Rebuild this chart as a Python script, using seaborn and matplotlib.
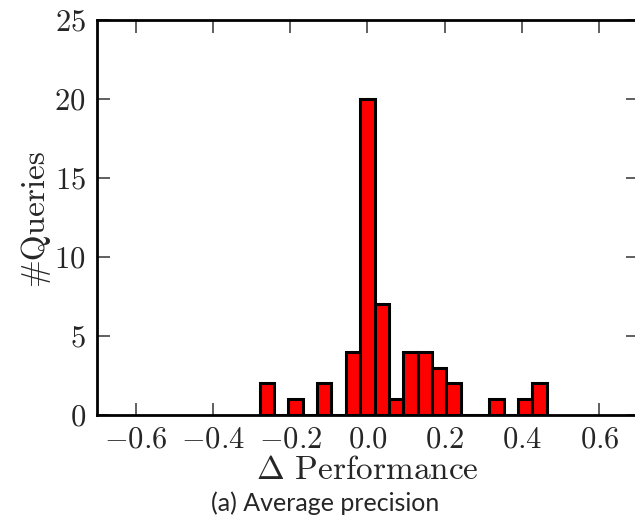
import numpy as np
import pandas as pd
import matplotlib
matplotlib.use("Agg")
import matplotlib.pyplot as plt
import seaborn as sns

# histogram: 20 bins between the min and max delta
bin_edges = list(np.linspace(-0.279, 0.464, 21))
bin_counts = [2, 0, 1, 0, 2, 0, 4, 20, 7, 1, 4, 4, 3, 2, 0, 0, 1, 0, 1, 2]
x_ticks = [-0.6, -0.4, -0.2, 0.0, 0.2, 0.4, 0.6]
y_ticks = [0, 5, 10, 15, 20, 25]

bin_centers = [(a + b) / 2 for a, b in zip(bin_edges[:-1], bin_edges[1:])]
df = pd.DataFrame({"delta": bin_centers, "n": bin_counts})

sns.set_style("ticks")
plt.rcParams["font.family"] = "serif"
plt.rcParams["font.serif"] = ["cmr10", "DejaVu Serif"]
plt.rcParams["mathtext.fontset"] = "cm"
plt.rcParams["axes.formatter.use_mathtext"] = True

fig = plt.figure(figsize=(6.35, 5.18), dpi=100)
ax = fig.add_axes([97 / 635, 103 / 518, 541 / 635, 395 / 518])

sns.histplot(data=df, x="delta", weights="n", bins=bin_edges,
             color="red", alpha=1.0, edgecolor="black", linewidth=2.2, ax=ax)

ax.set_xlim(-0.7, 0.7)
ax.set_ylim(0, 25)
ax.set_xticks(x_ticks)
ax.set_yticks(y_ticks)
ax.set_xticklabels([r"$%.1f$" % t for t in x_ticks])
ax.set_yticklabels([r"$%d$" % t for t in y_ticks])

for s in ax.spines.values():
    s.set_linewidth(2)
    s.set_color("black")

ax.tick_params(direction="in", top=True, right=True, length=9, width=1.2,
               color="#444444", labelsize=22, pad=8)

ax.set_xlabel(r"$\Delta$ Performance", fontsize=24, labelpad=2)
ax.set_ylabel("#Queries", fontsize=24, labelpad=4)

fig.text(325 / 635, 1 - 503 / 518, "(a) Average precision", family="Lato",
         fontsize=18, ha="center", va="center")

fig.savefig("out.png", dpi=100)
